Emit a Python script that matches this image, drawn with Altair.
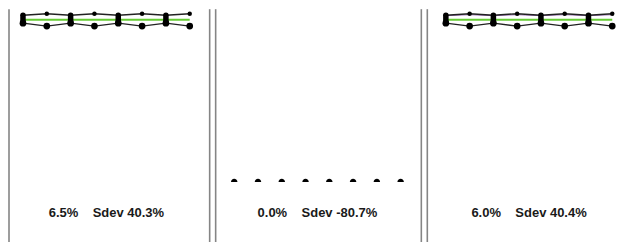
import altair as alt
import pandas as pd

# ---- data ----
idx = [0, 1, 2, 3, 4, 5, 6, 7]

hi_1 = [6.68, 6.74, 6.68, 6.74, 6.68, 6.74, 6.68, 6.74]
lo_1 = [6.36, 6.24, 6.36, 6.24, 6.36, 6.24, 6.36, 6.24]
mean_1 = [6.5] * 8

zero_2 = [0.0] * 8

hi_3 = [6.18, 6.24, 6.18, 6.24, 6.18, 6.24, 6.18, 6.24]
lo_3 = [5.86, 5.74, 5.86, 5.74, 5.86, 5.74, 5.86, 5.74]
mid_3 = [6.16, 6.20, 6.16, 6.20, 6.16, 6.20, 6.16, 6.20]
mean_3 = [6.0] * 8

labels = ["6.5%\u00a0\u00a0\u00a0\u00a0Sdev 40.3%",
          "0.0%\u00a0\u00a0\u00a0\u00a0Sdev -80.7%",
          "6.0%\u00a0\u00a0\u00a0\u00a0Sdev 40.4%"]

H = 234
GREEN = "#66cc33"
GREY = "#858585"
SEMI = "M-1,0.35A1,1,0,0,1,1,0.35Z"


def border(width, right=True):
    d = alt.Data(values=[{}])
    layers = [alt.Chart(d).mark_rule(color=GREY, strokeWidth=1.6).encode(
        x=alt.value(0), y=alt.value(0), y2=alt.value(H))]
    if right:
        layers.append(alt.Chart(d).mark_rule(color=GREY, strokeWidth=1.6).encode(
            x=alt.value(width), y=alt.value(0), y2=alt.value(H)))
    return layers


def panel(width, xdom, ydom, label, hi=None, lo=None, mean=None, mid=None,
          flat=None, right=True):
    xs = alt.Scale(domain=xdom, nice=False, zero=False)
    ys = alt.Scale(domain=ydom, nice=False, zero=False)
    X = alt.X("i:Q", scale=xs, axis=None)
    layers = border(width, right)
    if hi is not None:
        df = pd.DataFrame({"i": idx, "hi": hi, "lo": lo, "mean": mean})
        base = alt.Chart(df)
        if mid is not None:
            dfm = pd.DataFrame({"i": idx, "mid": mid})
            layers.append(alt.Chart(dfm).mark_line(color="#9b6bb5", strokeWidth=1).encode(
                x=X, y=alt.Y("mid:Q", scale=ys, axis=None)))
        layers += [
            base.mark_line(color=GREEN, strokeWidth=2).encode(
                x=X, y=alt.Y("mean:Q", scale=ys, axis=None)),
            base.mark_line(color="#222", strokeWidth=1.4).encode(
                x=X, y=alt.Y("hi:Q", scale=ys, axis=None)),
            base.mark_line(color="#222", strokeWidth=1.4).encode(
                x=X, y=alt.Y("lo:Q", scale=ys, axis=None)),
            base.transform_filter("datum.i % 2 == 0").mark_rule(
                color="#000", strokeWidth=5.5, strokeCap="round").encode(
                x=X, y=alt.Y("hi:Q", scale=ys, axis=None), y2="lo:Q"),
            base.mark_point(filled=True, color="#000", size=20, opacity=1).encode(
                x=X, y=alt.Y("hi:Q", scale=ys, axis=None)),
            base.mark_point(filled=True, color="#000", size=45, opacity=1).encode(
                x=X, y=alt.Y("lo:Q", scale=ys, axis=None)),
        ]
    if flat is not None:
        dff = pd.DataFrame({"i": idx, "v": flat})
        layers.append(alt.Chart(dff).mark_point(
            filled=True, color="#000", size=42, opacity=1, shape=SEMI).encode(
            x=X, y=alt.Y("v:Q", scale=ys, axis=None)))
    dft = pd.DataFrame({"i": [3.5], "t": [label]})
    layers.append(alt.Chart(dft).mark_text(
        font="Liberation Sans", fontSize=13, fontWeight="bold", color="#1a1a1a",
        baseline="middle", align="center").encode(
        x=X, y=alt.value(204), text="t:N"))
    return alt.layer(*layers).properties(width=width, height=H)


p1 = panel(201, [-0.587, 7.837], [-2.496, 6.922], labels[0],
           hi=hi_1, lo=lo_1, mean=mean_1)
p2 = panel(206, [-0.78, 7.87], [-2.496, 6.922], labels[1], flat=zero_2)
p3 = panel(190, [-0.78, 7.2], [-2.996, 6.422], labels[2],
           hi=hi_3, lo=lo_3, mean=mean_3, mid=mid_3, right=False)

chart = alt.hconcat(p1, p2, p3, spacing=6, bounds="flush").resolve_scale(
    x="independent", y="independent"
).properties(padding=0).configure_view(stroke=None)

chart.save("out.html", embed_options={"renderer": "svg", "actions": False})
